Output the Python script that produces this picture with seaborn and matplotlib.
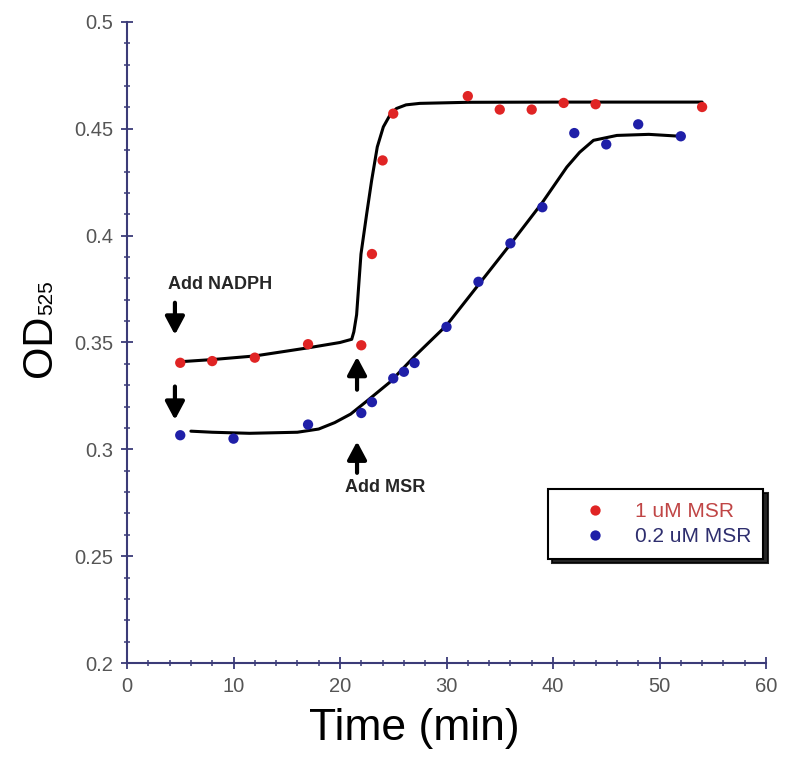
import matplotlib
matplotlib.use("Agg")
import matplotlib.pyplot as plt
from matplotlib.ticker import MultipleLocator
import seaborn as sns
import pandas as pd

# ---- data ----
red_t = [5, 8, 12, 17, 22, 23, 24, 25, 32, 35, 38, 41, 44, 54]
red_v = [0.3405, 0.3413, 0.3429, 0.3492, 0.3487, 0.3914, 0.4352, 0.4571,
         0.4653, 0.4590, 0.4590, 0.4621, 0.4615, 0.4602]
blue_t = [5, 10, 17, 22, 23, 25, 26, 27, 30, 33, 36, 39, 42, 45, 48, 52]
blue_v = [0.3066, 0.3050, 0.3116, 0.3170, 0.3221, 0.3332, 0.3363, 0.3404,
          0.3573, 0.3784, 0.3964, 0.4133, 0.4480, 0.4427, 0.4521, 0.4465]

# fitted curves
red_fit_t = [5, 8, 12, 17, 20, 21.1, 21.3, 21.56, 21.97, 22.5, 22.97, 23.5,
             24.07, 24.7, 25.3, 26.2, 27.5, 32, 40, 54]
red_fit_v = [0.3410, 0.3420, 0.3437, 0.3475, 0.3500, 0.3515, 0.3550, 0.3630,
             0.3914, 0.4100, 0.4258, 0.4415, 0.4509, 0.4565, 0.4595, 0.4612,
             0.4619, 0.4624, 0.4625, 0.4625]
blue_fit_t = [6, 8, 11.5, 16, 18, 19.5, 21, 22.5, 24.7, 27, 30, 33, 36, 39,
              41.3, 42.5, 43.8, 46, 49, 52]
blue_fit_v = [0.3085, 0.3080, 0.3075, 0.3080, 0.3095, 0.3125, 0.3165, 0.3225,
              0.3315, 0.3435, 0.3580, 0.3770, 0.3960, 0.4155, 0.4321, 0.4390,
              0.4446, 0.4469, 0.4474, 0.4465]

series_labels = ["1 uM MSR", "0.2 uM MSR"]
x_label = "Time (min)"
y_label_main = "OD"
y_label_sub = "525"

sns.set_style("white")
plt.rcParams["font.family"] = ["Liberation Sans", "DejaVu Sans"]

fig = plt.figure(figsize=(8, 7.65), dpi=100)
ax = fig.add_axes([0.15875, 0.1333, 0.79875, 0.838])

red_c = "#e02424"
blue_c = "#1f1fa8"
axis_c = "#3b3b78"

pts = pd.concat([
    pd.DataFrame({"t": red_t, "v": red_v, "s": series_labels[0]}),
    pd.DataFrame({"t": blue_t, "v": blue_v, "s": series_labels[1]}),
])
sns.lineplot(x=red_fit_t, y=red_fit_v, color="black", lw=2.2, sort=False,
             estimator=None, ax=ax, legend=False, zorder=2)
sns.lineplot(x=blue_fit_t, y=blue_fit_v, color="black", lw=2.2, sort=False,
             estimator=None, ax=ax, legend=False, zorder=2)
sns.scatterplot(data=pts, x="t", y="v", hue="s",
                palette={series_labels[0]: red_c, series_labels[1]: blue_c},
                s=55, edgecolor="none", ax=ax, zorder=3)

ax.set_xlim(0, 60)
ax.set_ylim(0.2, 0.5)
ax.xaxis.set_major_locator(MultipleLocator(10))
ax.xaxis.set_minor_locator(MultipleLocator(2))
ax.yaxis.set_minor_locator(MultipleLocator(0.01))
ax.set_yticks([0.2, 0.25, 0.3, 0.35, 0.4, 0.45, 0.5])
ax.set_yticklabels(["0.2", "0.25", "0.3", "0.35", "0.4", "0.45", "0.5"])

for side in ["top", "right"]:
    ax.spines[side].set_visible(False)
for side in ["left", "bottom"]:
    ax.spines[side].set_color(axis_c)
    ax.spines[side].set_linewidth(1.5)
ax.tick_params(which="major", direction="inout", length=8, width=1.3,
               color=axis_c, labelsize=14.5, labelcolor="#555555", pad=6)
ax.tick_params(which="minor", direction="inout", length=5, width=1.1,
               color=axis_c)
ax.tick_params(axis="x", which="both", bottom=True)
ax.tick_params(axis="y", which="both", left=True)

ax.set_xlabel(x_label, fontsize=32, color="black")
ax.xaxis.set_label_coords(0.449, -0.07)
ax.set_ylabel("")

# y label: large "OD" with small subscript "525"
od = fig.text(20 / 800, (765 - 377) / 765, y_label_main, fontsize=30,
              rotation=90, ha="left", va="bottom", color="black")
ax.annotate(y_label_sub, xy=(1.0, 1.0), xycoords=od, xytext=(-3, 0),
            textcoords="offset points", rotation=90, ha="right", va="bottom",
            fontsize=15, color="black", annotation_clip=False)

# annotations
arrow_kw = dict(arrowstyle="-|>,head_width=0.32,head_length=0.6", lw=3,
                color="black", shrinkA=0, shrinkB=0, mutation_scale=18)
ax.annotate("", xy=(4.5, 0.3536), xytext=(4.5, 0.3686), arrowprops=arrow_kw)
ax.annotate("", xy=(4.5, 0.3138), xytext=(4.5, 0.3294), arrowprops=arrow_kw)
ax.annotate("", xy=(21.6, 0.3433), xytext=(21.6, 0.3279), arrowprops=arrow_kw)
ax.annotate("", xy=(21.6, 0.3037), xytext=(21.6, 0.2890), arrowprops=arrow_kw)
ax.text(3.85, 0.377, "Add NADPH", fontsize=13, fontweight="bold",
        ha="left", va="center")
ax.text(20.5, 0.282, "Add MSR", fontsize=13, fontweight="bold",
        ha="left", va="center")

leg = ax.legend(loc="upper left", bbox_to_anchor=(0.659, 0.271),
                borderaxespad=0, frameon=True, fancybox=False,
                shadow={"color": "black", "alpha": 0.85, "ox": 3, "oy": -3},
                fontsize=15, handlelength=3.3, handletextpad=0.25,
                borderpad=0.6, labelspacing=0.3, markerscale=1.0)
leg.get_frame().set_edgecolor("black")
leg.get_frame().set_linewidth(1.5)
leg.get_frame().set_alpha(1)
for txt, c in zip(leg.get_texts(), ["#c04545", "#2e2e6e"]):
    txt.set_color(c)

fig.savefig("out.png", dpi=100, facecolor="white")
